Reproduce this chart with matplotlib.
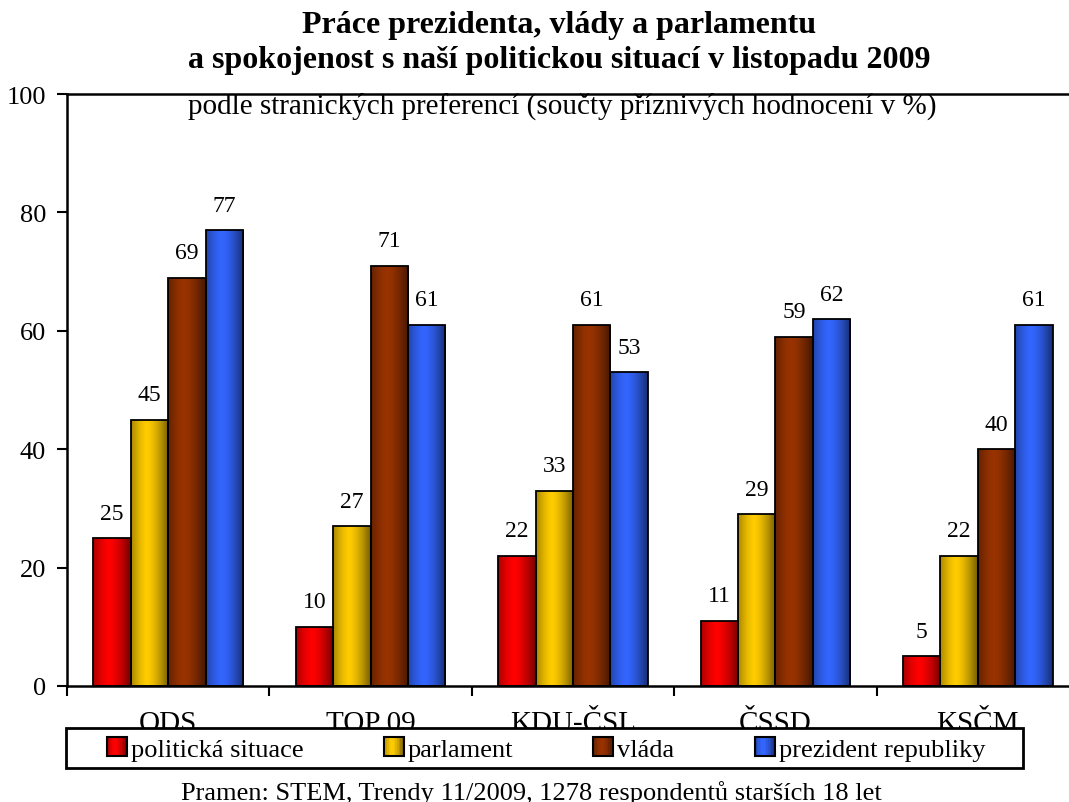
import numpy as np
import matplotlib
matplotlib.use("Agg")
import matplotlib.pyplot as plt
from matplotlib.patches import Rectangle
from matplotlib.legend_handler import HandlerBase

plt.rcParams['font.family'] = ['Liberation Serif', 'DejaVu Serif']

# data
parties = ['ODS', 'TOP 09', 'KDU-ČSL', 'ČSSD', 'KSČM']
series = ['politická situace', 'parlament', 'vláda', 'prezident republiky']
situace = [25, 10, 22, 11, 5]
parlament = [45, 27, 33, 29, 22]
vlada = [69, 71, 61, 59, 40]
prezident = [77, 61, 53, 62, 61]
yticks = [0, 20, 40, 60, 80, 100]

values = [situace, parlament, vlada, prezident]
base_colors = [(1.0, 0.0, 0.0), (1.0, 0.8, 0.0), (0.6, 0.2, 0.0), (0.2, 0.4, 1.0)]


def shade(t):
    # brightness across the bar width: dark edges, bright just left of middle
    return 1 - 0.55 * np.clip(np.abs(t - 0.42) / 0.58, 0, 1) ** 1.5


def gradient_img(color, n=64):
    t = np.linspace(0, 1, n)
    b = shade(t)
    img = np.array(color)[None, None, :] * b[None, :, None]
    return img


class GradientHandler(HandlerBase):
    def __init__(self, color):
        super().__init__()
        self.color = color

    def create_artists(self, legend, orig_handle, xdescent, ydescent,
                       width, height, fontsize, trans):
        arts = []
        n = 12
        w = width / n
        for i in range(n):
            t = (i + 0.5) / n
            c = np.array(self.color) * shade(t)
            r = Rectangle((-xdescent + i * w, -ydescent), w * 1.05, height,
                          facecolor=c, edgecolor='none', transform=trans)
            arts.append(r)
        arts.append(Rectangle((-xdescent, -ydescent), width, height,
                              facecolor='none', edgecolor='black', lw=1.5,
                              transform=trans))
        return arts


fig = plt.figure(figsize=(10.69, 8.03), dpi=100)
ax = fig.add_axes([67 / 1069, 1 - 687 / 803, 1012 / 1069, 592 / 803])

x = np.arange(len(parties))
bw = 0.185
offsets = (np.arange(4) - 1.5) * bw

for vals, col, off in zip(values, base_colors, offsets):
    bars = ax.bar(x + off, vals, width=bw, facecolor='none',
                  edgecolor='black', linewidth=1.3, zorder=3)
    img = gradient_img(col)
    for b, v in zip(bars, vals):
        x0 = b.get_x()
        im = ax.imshow(img, extent=(x0, x0 + bw, 0, v), aspect='auto',
                       zorder=2, interpolation='bilinear')
        im.set_clip_path(b)
        ax.annotate(str(v), xy=(x0 + bw / 2, v), xytext=(0, 14),
                    textcoords='offset points', ha='center', va='baseline',
                    fontsize=17)

ax.set_xlim(-0.5, len(parties) - 0.5)
ax.set_ylim(0, 100)
ax.set_yticks(yticks)
ax.tick_params(axis='y', labelsize=19, length=7, width=1.5, pad=8)
ax.set_xticks(np.arange(len(parties) + 1) - 0.5)
ax.set_xticklabels([])
ax.set_xticks(x, minor=True)
ax.set_xticklabels(parties, minor=True, fontsize=21)
ax.tick_params(axis='x', which='major', length=7, width=1.5, direction='out')
ax.tick_params(axis='x', which='minor', length=0, pad=17)

for s in ['left', 'top', 'bottom']:
    ax.spines[s].set_linewidth(1.8)
ax.spines['right'].set_visible(False)

ax.text(0.489, 0.969, 'podle stranických preferencí (součty příznivých hodnocení v %)',
        transform=ax.transAxes, ha='center', va='baseline', fontsize=21)

fig.text(0.523, 1 - 33 / 803, 'Práce prezidenta, vlády a parlamentu',
         ha='center', va='baseline', fontsize=23, fontweight='bold')
fig.text(0.523, 1 - 68 / 803, 'a spokojenost s naší politickou situací v listopadu 2009',
         ha='center', va='baseline', fontsize=23, fontweight='bold')

# legend box
frame = Rectangle((66 / 1069, 1 - 769 / 803), 957 / 1069, 40 / 803,
                  transform=fig.transFigure, facecolor='white',
                  edgecolor='black', linewidth=2, zorder=5)
fig.patches.append(frame)

handles = [Rectangle((0, 0), 1, 1) for _ in series]
hmap = {h: GradientHandler(c) for h, c in zip(handles, base_colors)}
leg = fig.legend(handles, series, handler_map=hmap, ncol=4, frameon=False,
                 loc='center', bbox_to_anchor=(546 / 1069, 1 - 750 / 803),
                 fontsize=19, handlelength=0.75, handleheight=0.75,
                 handletextpad=0.15, columnspacing=3.05)
leg.set_zorder(6)

fig.text(0.497, 1 - 800 / 803, 'Pramen: STEM, Trendy 11/2009, 1278 respondentů starších 18 let',
         ha='center', va='baseline', fontsize=19)

fig.savefig('out.png', dpi=100)
